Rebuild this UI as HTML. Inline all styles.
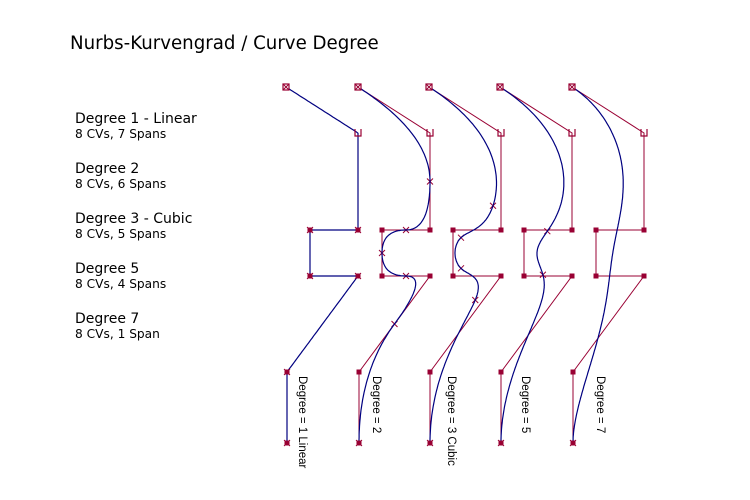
<!DOCTYPE html>
<html><head><meta charset="utf-8"><style>
body{margin:0;background:#fff;width:750px;height:500px;overflow:hidden;font-family:"DejaVu Sans","Liberation Sans",sans-serif;color:#000}
.t{position:absolute;white-space:nowrap}
</style></head><body>
<div class="t" style="left:70px;top:33px;font-size:18.2px">Nurbs-Kurvengrad / Curve Degree</div>
<div class="t" style="left:75px;top:111px;font-size:14px">Degree 1 - Linear</div>
<div class="t" style="left:75px;top:127px;font-size:12.2px">8 CVs, 7 Spans</div>
<div class="t" style="left:75px;top:161px;font-size:14px">Degree 2</div>
<div class="t" style="left:75px;top:177px;font-size:12.2px">8 CVs, 6 Spans</div>
<div class="t" style="left:75px;top:211px;font-size:14px">Degree 3 - Cubic</div>
<div class="t" style="left:75px;top:227px;font-size:12.2px">8 CVs, 5 Spans</div>
<div class="t" style="left:75px;top:261px;font-size:14px">Degree 5</div>
<div class="t" style="left:75px;top:277px;font-size:12.2px">8 CVs, 4 Spans</div>
<div class="t" style="left:75px;top:311px;font-size:14px">Degree 7</div>
<div class="t" style="left:75px;top:327px;font-size:12.2px">8 CVs, 1 Span</div>
<svg id="s" width="750" height="500" style="position:absolute;left:0;top:0" xmlns="http://www.w3.org/2000/svg">
<g font-family="Liberation Sans, DejaVu Sans, sans-serif" font-size="11.5" fill="#000">
<text transform="translate(299,376) rotate(90)">Degree = 1 Linear</text>
<text transform="translate(373,376) rotate(90)">Degree = 2</text>
<text transform="translate(448,376) rotate(90)">Degree = 3 Cubic</text>
<text transform="translate(522,376) rotate(90)">Degree = 5</text>
<text transform="translate(597,376) rotate(90)">Degree = 7</text>
</g>
</svg>
<script>
var s=document.getElementById('s'),NS='http://www.w3.org/2000/svg';
function el(n,a){var e=document.createElementNS(NS,n);for(var k in a)e.setAttribute(k,a[k]);s.appendChild(e);return e;}
var rel=[[0,0],[72,46],[72,143],[24,143],[24,189],[72,189],[1,285],[1,356]];
var cols=[286,358,429,500,572],degs=[1,2,3,5,7],R='#990033',B='#000080';
function basis(i,p,u,U){if(p==0)return (u>=U[i]&&u<U[i+1])?1:0;var a=0,b=0;
 if(U[i+p]-U[i])a=(u-U[i])/(U[i+p]-U[i])*basis(i,p-1,u,U);
 if(U[i+p+1]-U[i+1])b=(U[i+p+1]-u)/(U[i+p+1]-U[i+1])*basis(i+1,p-1,u,U);return a+b;}
function xm(x,y,c){el('path',{d:'M'+(x-3)+' '+(y-3)+'L'+(x+3)+' '+(y+3)+'M'+(x+3)+' '+(y-3)+'L'+(x-3)+' '+(y+3),stroke:c,'stroke-width':1,fill:'none'});}
for(var c=0;c<5;c++){
 var P=rel.map(function(r){return [cols[c]+r[0],87+r[1]];}),p=degs[c],n=8;
 var d='M'+P.map(function(q){return q.join(' ');}).join('L');
 if(c>0)el('path',{d:d,stroke:R,fill:'none','stroke-width':1});
 var U=[],m=n+p+1,sp=n-p;for(var i=0;i<=m;i++)U.push(i<=p?0:(i>=n?sp:i-p));
 var pts=[],N=300;
 for(var k=0;k<=N;k++){var u=k/N*sp;if(k==N)u=sp-1e-9;var x=0,y=0;
  for(var i=0;i<n;i++){var b=basis(i,p,u,U);x+=b*P[i][0];y+=b*P[i][1];}pts.push([x,y]);
  if(c>0&&k>0&&k<N&&Math.abs(u-Math.round(u))<1e-9)xm(x,y,R);}
 el('path',{d:'M'+pts.map(function(q){return q[0].toFixed(1)+' '+q[1].toFixed(1);}).join('L'),stroke:B,fill:'none','stroke-width':1.2});
 for(var i=0;i<n;i++){var x=P[i][0],y=P[i][1];
  if(i==0){el('rect',{x:x-3,y:y-3,width:6,height:6,fill:'#fff',stroke:R,'stroke-width':1.2});xm(x,y,R);}
  else if(i==1){el('path',{d:'M'+(x-3)+' '+(y-4)+'V'+(y+3)+'H'+(x+3)+'V'+(y-4),stroke:R,fill:'none','stroke-width':1.2});}
  else{el('rect',{x:x-2.5,y:y-2.5,width:5,height:5,fill:R});if(c==0||i==n-1)xm(x,y,R);}
 }
}
</script>
</body></html>
